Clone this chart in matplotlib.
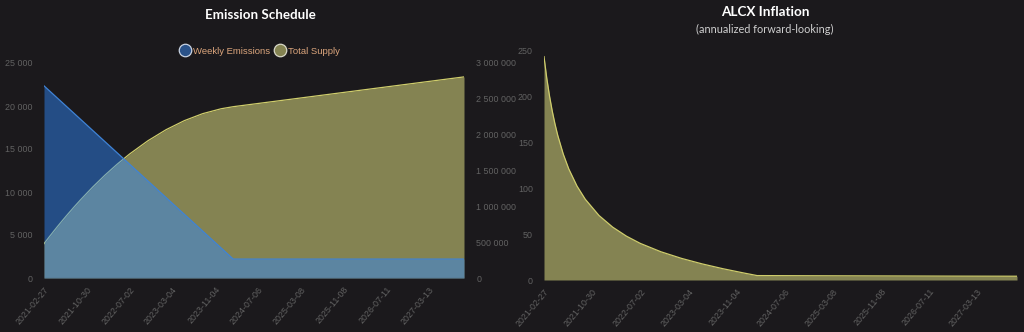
"""
Alchemix emission schedule + ALCX inflation, dark dashboard style.
"""

import matplotlib.pyplot as plt
from matplotlib.lines import Line2D
from matplotlib.ticker import FuncFormatter

BG = "#1b191c"
BLUE_FILL = "#2f89fc"
BLUE_LINE = "#3f83d6"
OLIVE_FILL = "#848352"
OLIVE_LINE = "#cfcd6c"
TICK_COLOR = "#626262"

# weekly data, x = weeks since 2021-02-27
emission_weeks = [0, 155, 344]
weekly_emissions = [22344, 2200, 2200]

supply_weeks = [0, 2, 4, 6, 8, 10, 14, 18, 24, 30, 40, 50, 60, 70, 85, 100,
                115, 130, 145, 155, 200, 250, 300, 344]
total_supply = [478612, 523170, 567208, 610726, 653724, 696202, 779598,
                860914, 978988, 1092382, 1270972, 1436562, 1589152, 1728742,
                1913752, 2069512, 2196022, 2293282, 2361292, 2390382,
                2489382, 2599382, 2709382, 2806182]
inflation_pct = [242.8, 219.5, 200.1, 183.6, 169.5, 157.2, 136.9, 120.8,
                 102.1, 87.8, 70.1, 57.4, 47.6, 39.8, 30.7, 23.5, 17.5, 12.3,
                 7.7, 4.8, 4.6, 4.4, 4.2, 4.1]

tick_weeks = [0, 35, 70, 105, 140, 175, 210, 245, 280, 315]
tick_labels = ["2021-02-27", "2021-10-30", "2022-07-02", "2023-03-04",
               "2023-11-04", "2024-07-06", "2025-03-08", "2025-11-08",
               "2026-07-11", "2027-03-13"]
last_week = 344

TICK_FONT = dict(family="Liberation Sans", size=6.4, color=TICK_COLOR)


def spaced(v, _pos):
    return f"{int(v):,}".replace(",", " ")


def style_axis(ax):
    ax.set_facecolor(BG)
    for s in ax.spines.values():
        s.set_visible(False)
    ax.tick_params(length=0, colors=TICK_COLOR)
    for lab in ax.get_yticklabels():
        lab.set(**TICK_FONT)


def set_dates(ax):
    ax.set_xlim(0, last_week)
    ax.set_xticks(tick_weeks)
    ax.set_xticklabels(tick_labels, rotation=50, ha="right",
                       rotation_mode="anchor", **TICK_FONT)
    ax.tick_params(axis="x", pad=5)


fig = plt.figure(figsize=(10.24, 3.32), dpi=100, facecolor=BG)

# ---- left: emission schedule ----
ax = fig.add_axes([44 / 1024, 1 - 278 / 332, 420 / 1024, 215 / 332])
ax2 = ax.twinx()
ax.set_zorder(ax2.get_zorder() + 1)

ax2.fill_between(supply_weeks, total_supply, color=OLIVE_FILL, lw=0)
ax2.plot(supply_weeks, total_supply, color=OLIVE_LINE, lw=0.9)
ax2.set_ylim(0, 3000000)
ax2.set_yticks(range(0, 3000001, 500000))
ax2.yaxis.set_major_formatter(FuncFormatter(spaced))

ax.fill_between(emission_weeks, weekly_emissions, color=BLUE_FILL,
                alpha=0.47, lw=0)
ax.plot(emission_weeks, weekly_emissions, color=BLUE_LINE, lw=0.9)
ax.set_ylim(0, 25000)
ax.set_yticks(range(0, 25001, 5000))
ax.yaxis.set_major_formatter(FuncFormatter(spaced))

set_dates(ax)
style_axis(ax)
style_axis(ax2)
ax.patch.set_visible(False)
ax.tick_params(axis="y", pad=8)
ax2.tick_params(axis="y", pad=9)
ax.axhline(0, color="#3a3a3a", lw=0.8)

fig.text(260 / 1024, 1 - 15 / 332, "Emission Schedule", ha="center",
         va="center", color="white", fontsize=9.6, fontweight="bold",
         family="Lato")

handles = [
    Line2D([], [], ls="none", marker="o", markersize=9,
           markerfacecolor="#2a5289", markeredgecolor="#c9d3e3", mew=0.9),
    Line2D([], [], ls="none", marker="o", markersize=9,
           markerfacecolor=OLIVE_FILL, markeredgecolor="#d8d8c8", mew=0.9),
]
leg = fig.legend(handles, ["Weekly Emissions", "Total Supply"],
                 loc="center", bbox_to_anchor=(260 / 1024, 1 - 51 / 332),
                 ncol=2, frameon=False, handletextpad=0.35, columnspacing=0.5,
                 handlelength=1.0, prop=dict(family="Liberation Sans", size=6.8))
for t in leg.get_texts():
    t.set_color("#dba57c")

# ---- right: inflation ----
bx = fig.add_axes([544 / 1024, 1 - 280 / 332, 473 / 1024, 230 / 332])
bx.fill_between(supply_weeks, inflation_pct, color=OLIVE_FILL, lw=0)
bx.plot(supply_weeks, inflation_pct, color=OLIVE_LINE, lw=0.9)
bx.set_ylim(0, 250)
bx.set_yticks(range(0, 251, 50))
set_dates(bx)
style_axis(bx)
bx.tick_params(axis="y", pad=8)

fig.text(765 / 1024, 1 - 12 / 332, "ALCX Inflation", ha="center",
         va="center", color="white", fontsize=9.7, fontweight="bold",
         family="Lato")
fig.text(765 / 1024, 1 - 29 / 332, "(annualized forward-looking)",
         ha="center", va="center", color="#cfcfcf", fontsize=7.8,
         family="Lato")

fig.savefig("out.png", dpi=100, facecolor=BG)
